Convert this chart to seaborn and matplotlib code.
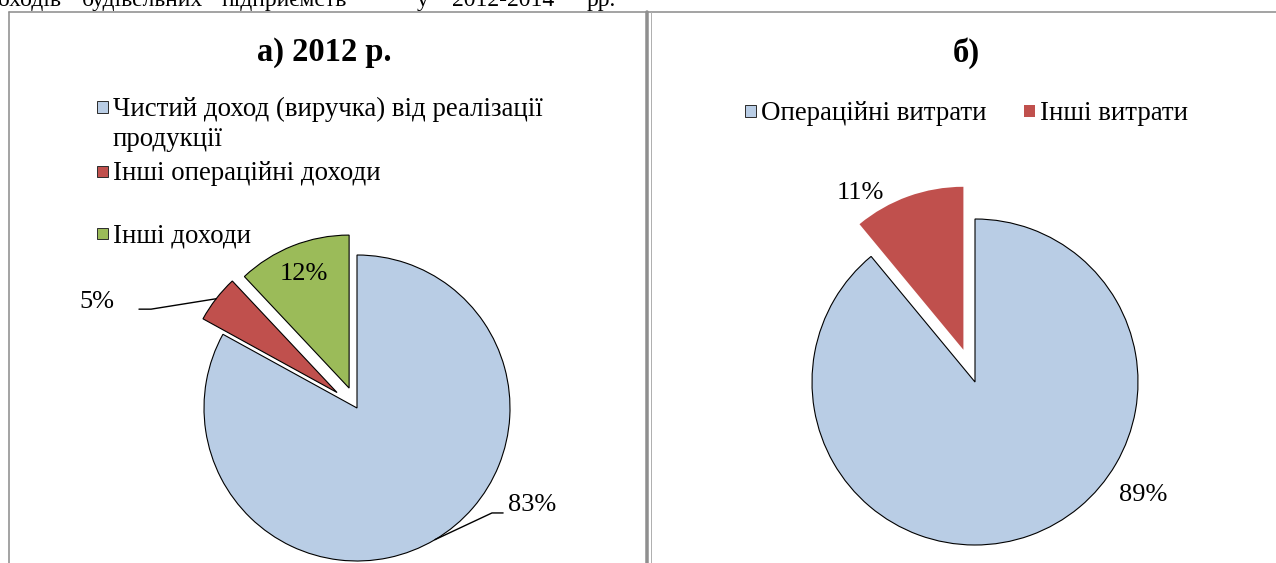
import numpy as np
import pandas as pd
import seaborn as sns
import matplotlib
matplotlib.use("Agg")
import matplotlib.pyplot as plt
from matplotlib.patches import Rectangle
from matplotlib.lines import Line2D

# ---------------- data ----------------
header_words = ["доходів", "будівельних", "підприємств", "у", "2012-2014", "рр."]

left_title = "а) 2012 р."
left_categories = ["Чистий доход (виручка) від реалізації\nпродукції",
                   "Інші операційні доходи",
                   "Інші доходи"]
left_values = [83, 5, 12]

right_title = "б)"
right_categories = ["Операційні витрати", "Інші витрати"]
right_values = [89, 11]

# ---------------- style ----------------
sns.set_theme(style="white")
plt.rcParams['font.family'] = ['Liberation Serif', 'DejaVu Serif']
plt.rcParams['text.color'] = 'black'

left_colors = sns.color_palette(["#B9CDE5", "#C0504D", "#9BBB59"])
right_colors = sns.color_palette(["#B9CDE5", "#C0504D"])

W, H = 1276, 563
fig = plt.figure(figsize=(W / 100, H / 100), dpi=100)
fig.patch.set_facecolor("white")


def fx(x):
    return x / W


def fy(y):
    return 1 - y / H


def px2pt(p):
    return p * 72 / 100


# ---------------- frame lines ----------------
frame_col = "#8f8f8f"
fig.add_artist(Line2D([fx(9), fx(W)], [fy(11.5), fy(11.5)], transform=fig.transFigure,
                      color=frame_col, lw=px2pt(1.6)))
fig.add_artist(Line2D([fx(9), fx(9)], [fy(11.5), fy(H + 5)], transform=fig.transFigure,
                      color=frame_col, lw=px2pt(1.6)))
fig.add_artist(Line2D([fx(646.5), fx(646.5)], [fy(11.5), fy(H + 5)], transform=fig.transFigure,
                      color=frame_col, lw=px2pt(3.5)))
fig.add_artist(Line2D([fx(650.5), fx(650.5)], [fy(11.5), fy(H + 5)], transform=fig.transFigure,
                      color="#b0b0b0", lw=px2pt(1.0)))

# ---------------- clipped header line (continuation of the page text) ----------------
header_x = [62, 82, 222, 417, 452, 587]
for i, (w, x) in enumerate(zip(header_words, header_x)):
    fig.text(fx(x), fy(6.0), w, ha="right" if i == 0 else "left", va="baseline",
             fontsize=17, color="black")

# ---------------- titles ----------------
fig.text(fx(324), fy(53), left_title, ha="center", va="center", fontsize=23.5,
         fontweight="bold", color="black")
fig.text(fx(966), fy(53), right_title, ha="center", va="center", fontsize=23.5,
         fontweight="bold", color="black")

# ---------------- legends ----------------
LEG_FS = 19.4
LINE_H = 31


def legend_entry(x_sq, y_c, color, edge, label):
    s = 11
    fig.add_artist(Rectangle((fx(x_sq), fy(y_c + s / 2)), s / W, s / H, transform=fig.transFigure,
                             facecolor=color, edgecolor=edge, lw=px2pt(1.0)))
    for k, line in enumerate(label.split("\n")):
        fig.text(fx(x_sq + s + 5), fy(y_c + 2 + k * LINE_H), line, ha="left", va="center",
                 fontsize=LEG_FS, color="black")


left_leg_y = [107, 172, 234]
for c, lab, y in zip(left_colors, left_categories, left_leg_y):
    legend_entry(97, y, c, "#303030", lab)

right_leg_x = [745, 1024]
right_edges = ["#303030", "none"]
for c, lab, x, e in zip(right_colors, right_categories, right_leg_x, right_edges):
    legend_entry(x, 111, c, e, lab)


# ---------------- pies ----------------
def pie_axes(cx, cy, r, half=215):
    ax = fig.add_axes([fx(cx - half), fy(cy + half), 2 * half / W, 2 * half / H])
    return ax, half / r


def arc_mid(w):
    t = np.deg2rad((w.theta1 + w.theta2) / 2)
    return w.center[0] + w.r * np.cos(t), w.center[1] + w.r * np.sin(t), t


LBL_FS = 19

# left pie
axL, limL = pie_axes(357, 408, 153)
wedgesL, _ = axL.pie(left_values, colors=left_colors, startangle=90, counterclock=False,
                     explode=[0, 0.165, 0.14],
                     wedgeprops=dict(edgecolor="black", linewidth=0.8))
axL.set_xlim(-limL, limL)
axL.set_ylim(-limL, limL)
axL.set_aspect("equal")
axL.axis("off")

# 83% with leader
ax_, ay_, _ = arc_mid(wedgesL[0])
axL.plot([ax_, 0.882, 0.955], [ay_, -0.686, -0.686], color="black", lw=1.0, clip_on=False)
axL.text(1.145, -0.634, f"{left_values[0]}%", ha="center", va="center", fontsize=LBL_FS,
         color="black")
# 5% with leader
ax_, ay_, _ = arc_mid(wedgesL[1])
axL.plot([ax_, -1.346, -1.425], [ay_, 0.646, 0.646], color="black", lw=1.0, clip_on=False)
axL.text(-1.70, 0.693, f"{left_values[1]}%", ha="center", va="center", fontsize=LBL_FS,
         color="black")
# 12% inside
w = wedgesL[2]
t = np.deg2rad((w.theta1 + w.theta2) / 2)
axL.text(w.center[0] + 0.8 * np.cos(t), w.center[1] + 0.8 * np.sin(t), f"{left_values[2]}%",
         ha="center", va="center", fontsize=LBL_FS, color="black")

# right pie
axR, limR = pie_axes(975, 382, 163)
wedgesR, _ = axR.pie(right_values, colors=right_colors, startangle=90, counterclock=False,
                     explode=[0, 0.21],
                     wedgeprops=dict(edgecolor="black", linewidth=0.8))
wedgesR[1].set_edgecolor("none")
axR.set_xlim(-limR, limR)
axR.set_ylim(-limR, limR)
axR.set_aspect("equal")
axR.axis("off")
axR.text(-0.706, 1.16, f"{right_values[1]}%", ha="center", va="center", fontsize=LBL_FS,
         color="black")
axR.text(1.03, -0.693, f"{right_values[0]}%", ha="center", va="center", fontsize=LBL_FS,
         color="black")

fig.savefig("out.png", dpi=100, facecolor="white")
